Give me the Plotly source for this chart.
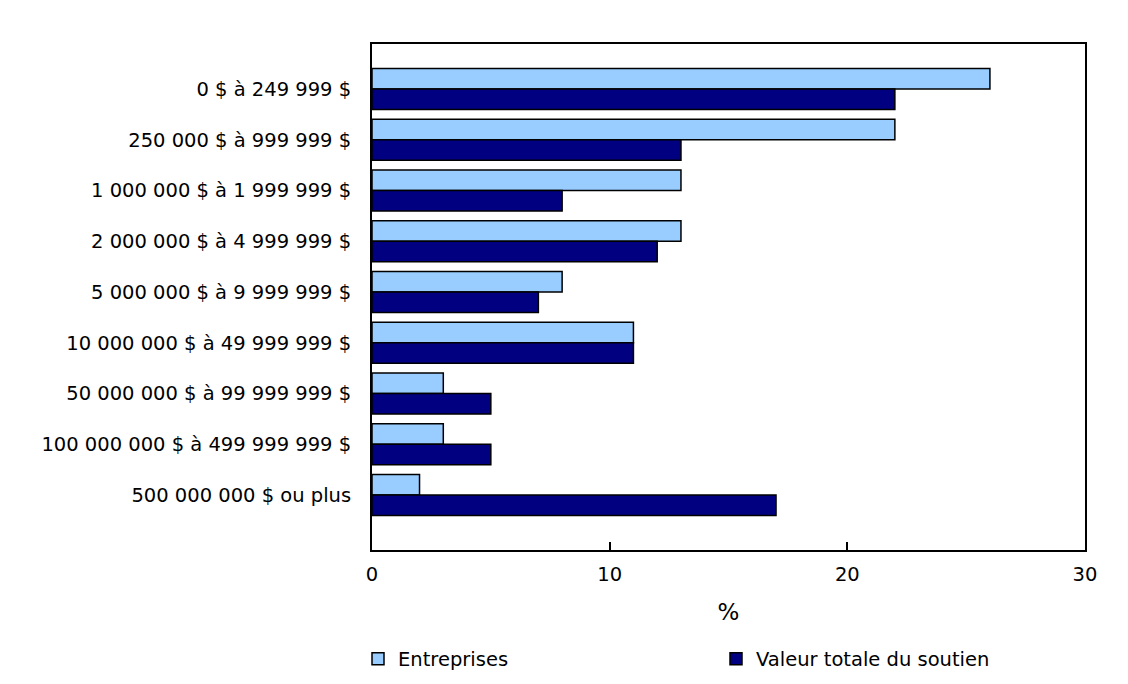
import plotly.graph_objects as go

categories = [
    "0 $ à 249 999 $",
    "250 000 $ à 999 999 $",
    "1 000 000 $ à 1 999 999 $",
    "2 000 000 $ à 4 999 999 $",
    "5 000 000 $ à 9 999 999 $",
    "10 000 000 $ à 49 999 999 $",
    "50 000 000 $ à 99 999 999 $",
    "100 000 000 $ à 499 999 999 $",
    "500 000 000 $ ou plus",
]
entreprises = [26, 22, 13, 13, 8, 11, 3, 3, 2]
valeur = [22, 13, 8, 12, 7, 11, 5, 5, 17]
x_ticks = [0, 10, 20, 30]

FONT = "DejaVu Sans"
FS = 19.5

fig = go.Figure()
fig.add_trace(go.Bar(
    y=categories, x=entreprises, orientation="h", name="Entreprises",
    marker=dict(color="#99CCFF", line=dict(color="black", width=1.5)),
))
fig.add_trace(go.Bar(
    y=categories, x=valeur, orientation="h", name="Valeur totale du soutien",
    marker=dict(color="#000080", line=dict(color="black", width=1.5)),
))

L, T, PW, PH = 364, 36, 713, 506
fig.update_layout(
    width=1128, height=684,
    margin=dict(l=L, r=1128 - L - PW, t=T, b=684 - T - PH),
    paper_bgcolor="white", plot_bgcolor="white",
    barmode="group", bargap=0.19, bargroupgap=0,
    font=dict(family=FONT, size=FS, color="black"),
    showlegend=True,
    legend=dict(
        orientation="h", x=-14 / PW, xanchor="left", xref="paper",
        y=-109 / PH, yanchor="middle",
        font=dict(size=FS), entrywidth=313, entrywidthmode="pixels",
        traceorder="normal",
    ),
)

fig.update_xaxes(
    range=[0, 30], tickvals=x_ticks, ticks="inside", ticklen=8, tickwidth=1.5,
    tickcolor="black", showgrid=False, zeroline=False,
    showline=True, linecolor="black", linewidth=2, mirror=True,
    title=dict(text="%", standoff=18), tickfont=dict(size=FS),
    ticklabelstandoff=6,
)
fig.update_yaxes(
    type="category", categoryorder="array", categoryarray=categories,
    range=[9.085, -0.888], showgrid=False, zeroline=False, ticks="",
    showline=True, linecolor="black", linewidth=2, mirror=True,
    tickfont=dict(size=FS), ticklabelstandoff=15,
)

fig.write_html("out.html")
